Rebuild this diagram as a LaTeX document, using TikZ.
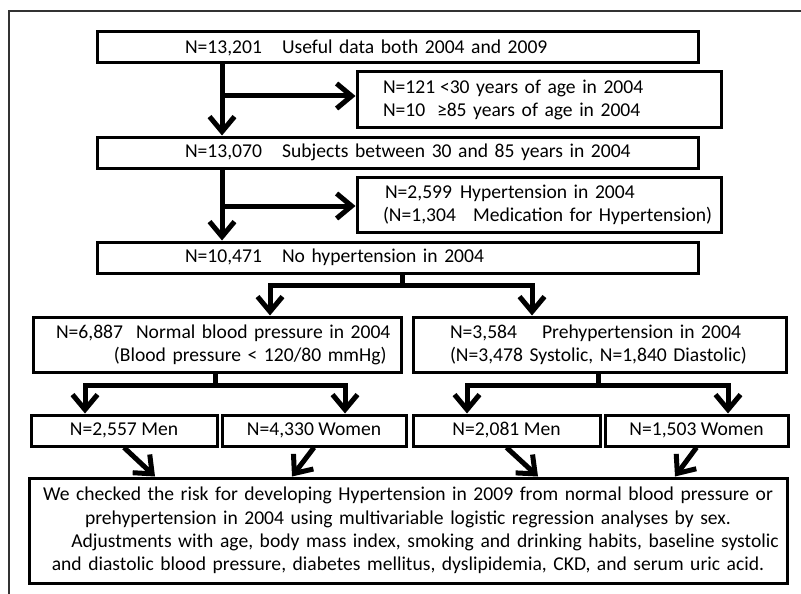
\documentclass[tikz,border=0pt]{standalone}
\usepackage{fontspec}
\setmainfont{Carlito}
\usetikzlibrary{arrows.meta}
\begin{document}
\begin{tikzpicture}[x=1pt,y=-1pt,
  box/.style={draw, line width=3pt, inner sep=0pt, font=\fontsize{19.6}{23.3}\selectfont},
  lbox/.style={box, align=left},
  cbox/.style={box, align=center},
  tipV/.tip={Straight Barb[length=15pt,width=25pt]},
  arr/.style={line width=5pt, -tipV},
  arrboth/.style={line width=5pt, tipV-tipV},
  ln/.style={line width=5pt},
  frame/.style={line width=1.5pt, black!80}]
\useasboundingbox (0,0) rectangle (801,594);
\draw[frame] (9,594) -- (9,11) -- (801,11);

\node[lbox, minimum width=601pt, minimum height=31pt, text width=601pt] (B1) at (397.5,47.5)
  {\hspace*{88pt}\makebox[97pt][l]{N=13,201}Useful data both 2004 and 2009};
\node[lbox, minimum width=364pt, minimum height=55.5pt, text width=364pt] (B2) at (539,99.75)
  {\hspace*{26pt}\makebox[57pt][l]{N=121}<30 years of age in 2004\\
   \hspace*{26pt}\makebox[54pt][l]{N=10}≥85 years of age in 2004};
\node[lbox, minimum width=601pt, minimum height=31pt, text width=601pt] (B3) at (397.5,152.5)
  {\hspace*{88pt}\makebox[97pt][l]{N=13,070}Subjects between 30 and 85 years in 2004};
\node[lbox, minimum width=364pt, minimum height=55.5pt, text width=364pt] (B4) at (539,204.75)
  {\hspace*{28pt}\makebox[75pt][l]{N=2,599}Hypertension in 2004\\
   \hspace*{26pt}\makebox[90pt][l]{(N=1,304}Medication for Hypertension)};
\node[lbox, minimum width=601pt, minimum height=31pt, text width=601pt] (B5) at (397.5,257.5)
  {\hspace*{88pt}\makebox[97pt][l]{N=10,471}No hypertension in 2004};
\node[lbox, minimum width=368pt, minimum height=55.5pt, text width=368pt] (B6) at (217,344.75)
  {\hspace*{23pt}\makebox[80pt][l]{N=6,887}Normal blood pressure in 2004\\
   \hspace*{81pt}(Blood pressure < 120/80 mmHg)};
\node[lbox, minimum width=373pt, minimum height=55.5pt, text width=373pt] (B7) at (599.5,344.75)
  {\hspace*{37pt}\makebox[92pt][l]{N=3,584}Prehypertension in 2004\\
   \hspace*{37pt}(N=3,478 Systolic, N=1,840 Diastolic)};
\node[cbox, minimum width=186pt, minimum height=31pt] (M1) at (124,430.5) {N=2,557 Men};
\node[cbox, minimum width=184pt, minimum height=31pt] (W1) at (314,430.5) {N=4,330 Women};
\node[cbox, minimum width=187pt, minimum height=31pt] (M2) at (506.5,430.5) {N=2,081 Men};
\node[cbox, minimum width=183pt, minimum height=31pt] (W2) at (696.5,430.5) {N=1,503 Women};
\node[cbox, minimum width=758pt, minimum height=105pt, text width=758pt] (BB) at (408,530.5)
  {We checked the risk for developing Hypertension in 2009 from normal blood pressure or\\
   prehypertension in 2004 using multivariable logistic regression analyses by sex.\\
   \hspace*{34pt}Adjustments with age, body mass index, smoking and drinking habits, baseline systolic\\
   and diastolic blood pressure, diabetes mellitus, dyslipidemia, CKD, and serum uric acid.};

% exclusions
\coordinate (j1) at (222,96);
\draw[arr] (j1 |- B1.south) -- (j1 |- B3.north);
\draw[arr] (j1) -- (j1 -| B2.west);
\coordinate (j2) at (222,206);
\draw[arr] (j2 |- B3.south) -- (j2 |- B5.north);
\draw[arr] (j2) -- (j2 -| B4.west);

% split into normal / prehypertension
\coordinate (s1) at (402,285);
\coordinate (l1) at (270,285);
\coordinate (r1) at (532,285);
\draw[ln] (s1 |- B5.south) -- (s1);
\draw[arrboth] (l1 |- B6.north) -- (l1) -- (r1) -- (r1 |- B7.north);

% split by sex
\coordinate (s2) at (215,385);
\coordinate (l2) at (85,385);
\coordinate (r2) at (345,385);
\draw[ln] (s2 |- B6.south) -- (s2);
\draw[arrboth] (l2 |- M1.north) -- (l2) -- (r2) -- (r2 |- W1.north);
\coordinate (s3) at (598,385);
\coordinate (l3) at (467,385);
\coordinate (r3) at (728,385);
\draw[ln] (s3 |- B7.south) -- (s3);
\draw[arrboth] (l3 |- M2.north) -- (l3) -- (r3) -- (r3 |- W2.north);

% into final box
\coordinate (e1) at (155,0);
\coordinate (e2) at (292,0);
\coordinate (e3) at (538,0);
\coordinate (e4) at (675,0);
\draw[arr] (M1.south) -- (e1 |- BB.north);
\draw[arr] (W1.south) -- (e2 |- BB.north);
\draw[arr] (M2.south) -- (e3 |- BB.north);
\draw[arr] (W2.south) -- (e4 |- BB.north);
\end{tikzpicture}
\end{document}
